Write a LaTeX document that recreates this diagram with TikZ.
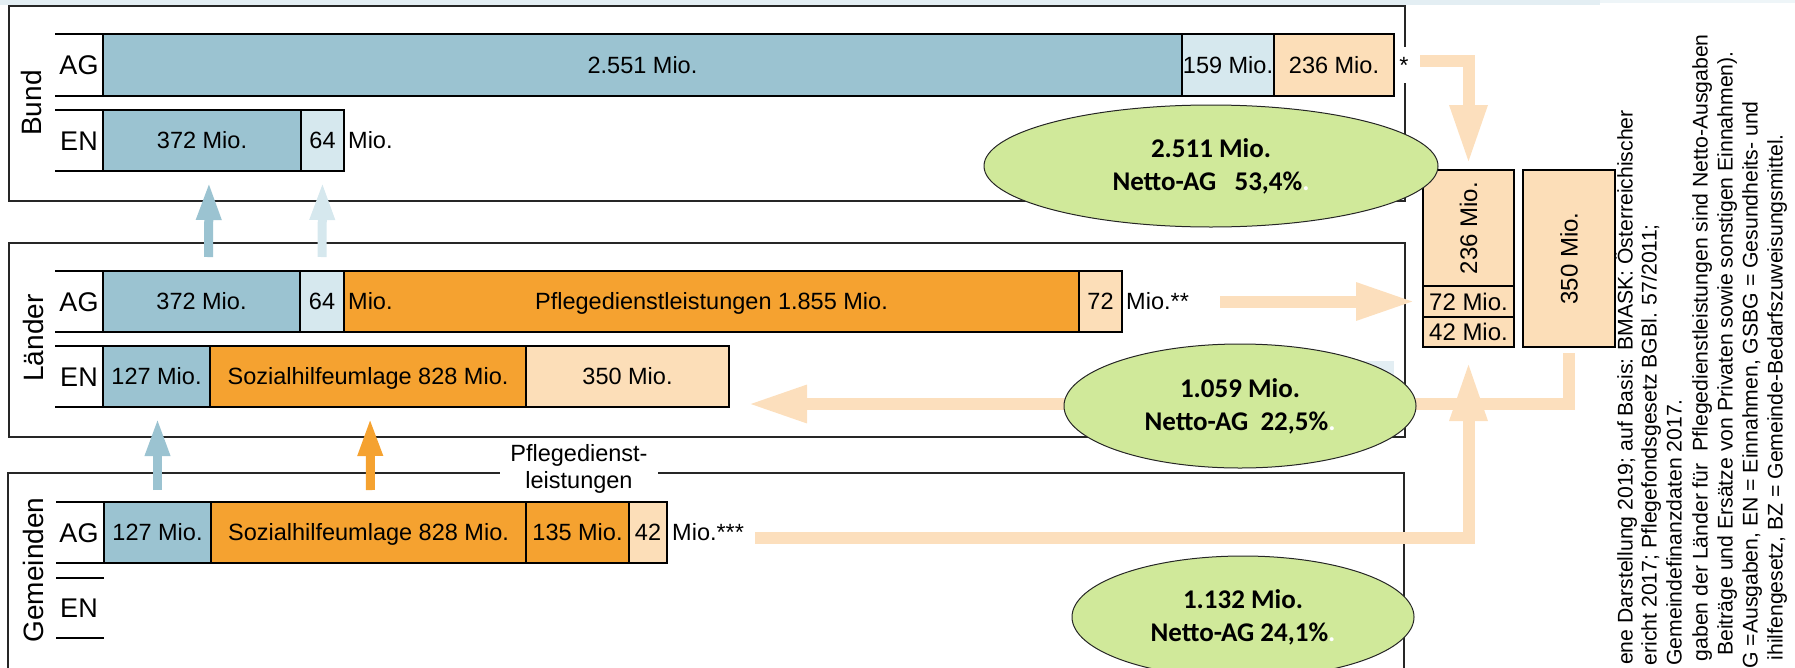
\documentclass[tikz,border=0pt]{standalone}
\usepackage{fontspec}
\setmainfont{Liberation Sans}
\newfontfamily\calibri{Carlito}
\usepackage{graphicx}
\usetikzlibrary{arrows.meta,shapes.geometric}
\definecolor{barblue}{HTML}{9BC3D1}
\definecolor{lblue}{HTML}{D6E8EE}
\definecolor{peach}{HTML}{FCDEB8}
\definecolor{arrpeach}{HTML}{FCDFBD}
\definecolor{orng}{HTML}{F5A230}
\definecolor{egreen}{HTML}{D0E99A}
\definecolor{strip}{HTML}{E3EEF3}
\definecolor{striptwo}{HTML}{EEF5F8}
\newcommand\T[1]{\makebox[0pt]{#1}}
\newcommand\segfont{\fontsize{23.5}{27}\selectfont}
\newcommand\labfont{\fontsize{27}{31}\selectfont}
\newcommand\rotfont{\fontsize{28}{32}\selectfont}
\newcommand\rbfont{\fontsize{24}{28}\selectfont}
\newcommand\footfont{\fontsize{21.2}{25}\selectfont}
\newcommand\ellfont{\fontsize{27}{33}\selectfont\calibri\bfseries}
\tikzset{
  segbox/.style={draw=black,line width=1.2pt,rectangle,inner sep=0pt,outer sep=0pt,font=\segfont,text height=16.8pt,text depth=0pt},
  barline/.style={draw=black,line width=2.4pt},
  boxline/.style={draw=black!85,line width=1.5pt},
  tickline/.style={draw=black,line width=1.3pt},
  lab/.style={font=\labfont,inner sep=0pt,text height=19.4pt,text depth=0pt},
  rotlab/.style={font=\rotfont,inner sep=0pt,rotate=90},
  plain/.style={font=\segfont,inner sep=0pt,text height=16.8pt,text depth=0pt},
  upA/.style={line width=9pt,-{Triangle[length=38pt,width=23pt]}},
  peacharr/.style={draw=arrpeach,line width=12pt,line join=miter,-{Triangle[length=59pt,width=35pt]}},
  rbox/.style={draw=black,line width=2.4pt,fill=peach,rectangle,inner sep=0pt,outer sep=0pt,font=\rbfont,anchor=north west},
  ell/.style={ellipse,draw=black!85,line width=1pt,fill=egreen,inner sep=0pt,align=center,font=\ellfont},
  foot/.style={font=\footfont,inner sep=0pt,rotate=90,anchor=east,text height=15pt,text depth=4pt},
}
\newcommand\seg[7]{\node[segbox,fill=#6,minimum width={(#3-#2)*1pt},minimum height={(#5-#4)*1pt},anchor=north west] (#1) at (#2,#4) {\T{#7}};}
\begin{document}
\begin{tikzpicture}[x=1pt,y=-1pt]
\useasboundingbox (0,0) rectangle (1795,667);
% top strip
\fill[strip] (0,0) rectangle (1600,5);
\fill[striptwo] (1600,0) rectangle (1795,3);
% level boxes
\node[boxline,rectangle,inner sep=0pt,minimum width=1396pt,minimum height=195pt,anchor=north west] (bundbox) at (8,5) {};
\node[boxline,rectangle,inner sep=0pt,minimum width=1396pt,minimum height=194pt,anchor=north west] (laenderbox) at (8,242) {};
\draw[boxline] (8,700) -- (8,473) -- (1404,473) -- (1404,700);
\fill[strip] (1300,361) rectangle (1394,430);
% side labels
\node[rotlab] (bund) at (31,103) {Bund};
\node[rotlab] (laender) at (33,338) {Länder};
\node[rotlab] (gem) at (33,570) {Gemeinden};
% Bund rows
\draw[tickline] (55,34) -- (103,34); \draw[tickline] (55,96) -- (103,96);
\draw[tickline] (55,110) -- (103,110); \draw[tickline] (55,171) -- (103,171);
\node[lab] (bAG) at (79,65) {\T{AG}};
\node[lab] (bEN) at (79,140.5) {\T{EN}};
\seg{bAGa}{103}{1182}{34}{96}{barblue}{2.551 Mio.}
\seg{bAGb}{1182}{1274}{34}{96}{lblue}{159 Mio.}
\seg{bAGc}{1274}{1394}{34}{96}{peach}{236 Mio.}
\draw[barline] (bAGa.north west) rectangle (bAGc.south east);
\seg{bENa}{103}{301}{110}{171}{barblue}{372 Mio.}
\seg{bENb}{301}{344}{110}{171}{lblue}{64}
\draw[barline] (bENa.north west) rectangle (bENb.south east);
\node[plain,anchor=west] (bmio) at (348,140.5) {Mio.};
% Laender rows
\draw[tickline] (55,271) -- (103,271); \draw[tickline] (55,332) -- (103,332);
\draw[tickline] (55,346) -- (103,346); \draw[tickline] (55,407) -- (103,407);
\node[lab] (lAG) at (79,301.5) {\T{AG}};
\node[lab] (lEN) at (79,376.5) {\T{EN}};
\seg{lAGa}{103}{300}{271}{332}{barblue}{372 Mio.}
\seg{lAGb}{300}{344}{271}{332}{lblue}{64}
\seg{lAGc}{344}{1079}{271}{332}{orng}{Pflegedienstleistungen 1.855 Mio.}
\seg{lAGd}{1079}{1122}{271}{332}{peach}{72}
\draw[barline] (lAGa.north west) rectangle (lAGd.south east);
\node[plain,anchor=west] (lmioa) at (348,301.5) {Mio.};
\node[plain,anchor=west] (lmiob) at (1126,301.5) {Mio.**};
\seg{lENa}{103}{210}{346}{407}{barblue}{127 Mio.}
\seg{lENb}{210}{526}{346}{407}{orng}{Sozialhilfeumlage 828 Mio.}
\seg{lENc}{526}{729}{346}{407}{peach}{350 Mio.}
\draw[barline] (lENa.north west) rectangle (lENc.south east);
% Gemeinden rows
\draw[tickline] (56,502) -- (104,502); \draw[tickline] (56,563) -- (104,563);
\draw[tickline] (56,578) -- (104,578); \draw[tickline] (56,638) -- (104,638);
\node[lab] (gAG) at (79,532.5) {\T{AG}};
\node[lab] (gEN) at (79,608) {\T{EN}};
\seg{gAGa}{104}{211}{502}{563}{barblue}{127 Mio.}
\seg{gAGb}{211}{526}{502}{563}{orng}{Sozialhilfeumlage 828 Mio.}
\seg{gAGc}{526}{629}{502}{563}{orng}{135 Mio.}
\seg{gAGd}{629}{667}{502}{563}{peach}{42}
\draw[barline] (gAGa.north west) rectangle (gAGd.south east);
\node[plain,anchor=west] (gmio) at (672,532.5) {Mio.***};
\node[fill=white,inner sep=0pt,minimum width=158pt,minimum height=52pt,align=center,font=\fontsize{23.5}{27}\selectfont] (pfl) at (579,468.5) {\T{Pflegedienst-}\\\T{leistungen}};
% vertical arrows
\draw[upA,barblue,shorten <=14pt,shorten >=11pt] ([xshift=7pt]lAGa.north) -- ([xshift=7pt]bENa.south);
\draw[upA,lblue,shorten <=14pt,shorten >=11pt] (lAGb.north) -- (bENb.south);
\draw[upA,barblue,shorten <=12pt,shorten >=11pt] (gAGa.north) -- (gAGa.north |- lENa.south);
\draw[upA,orng,shorten <=12pt,shorten >=11pt] ([xshift=2pt]gAGb.north) -- ([xshift=2pt]lENb.south);
% right boxes
\node[rbox,minimum width=91pt,minimum height=116pt] (rA) at (1423,170) {\makebox[0pt]{\rotatebox{90}{236 Mio.}}};
\node[rbox,minimum width=91pt,minimum height=31pt,text height=17.3pt,text depth=0pt] (rAb) at (1423,286) {\makebox[0pt]{72 Mio.}};
\node[rbox,minimum width=91pt,minimum height=30pt,text height=17.3pt,text depth=0pt] (rAc) at (1423,317) {\makebox[0pt]{42 Mio.}};
\node[rbox,minimum width=92pt,minimum height=177pt] (rB) at (1523,170) {\makebox[0pt]{\rotatebox{90}{350 Mio.}}};
% peach arrows
\coordinate (bstart) at (1420,60.5);
\coordinate (lstart) at (1220,301.5);
\coordinate (ltip) at (748,404);
\coordinate (gstart) at (755,537.5);
\draw[peacharr,shorten >=6pt] (bstart) -| (rA.north);
\draw[peacharr,shorten >=8pt] (lstart) -- (rAb.west);
\draw[peacharr,shorten <=6pt] (rB.south) |- (ltip);
\draw[peacharr,shorten >=15pt] (gstart) -| (rAc.south);
% star
\node[fill=white,inner sep=0pt,minimum width=12pt,minimum height=36pt,font=\segfont] (star) at (1404,65) {\T{*}};
% ellipses
\node[ell,minimum width=454pt,minimum height=122pt] (ea) at (1211,166) {2.511 Mio.\\Netto-AG\ \ \ 53,4\%\textcolor{white}{.}};
\node[ell,minimum width=352pt,minimum height=124pt] (eb) at (1240,406) {1.059 Mio.\\Netto-AG\ \ 22,5\%\textcolor{white}{.}};
\node[ell,minimum width=342pt,minimum height=122pt] (ec) at (1243,617) {1.132 Mio.\\Netto-AG 24,1\%\textcolor{white}{.}};
% footnotes
\node[foot] (fa) at (1627,110) {ene Darstellung 2019; auf Basis: BMASK: Österreichischer};
\node[foot] (fb) at (1651,224) {ericht 2017; Pflegefondsgesetz BGBl. 57/2011;};
\node[foot] (fc) at (1676,399) {Gemeindefinanzdaten 2017.};
\node[foot] (fd) at (1702,34) {gaben der Länder für\ \ Pflegedienstleistungen sind Netto-Ausgaben};
\node[foot] (fe) at (1727,51) {Beiträge und Ersätze von Privaten sowie sonstigen Einnahmen).};
\node[foot] (ff) at (1752,101) {G =Ausgaben, EN = Einnahmen, GSBG = Gesundheits- und};
\node[foot] (fg) at (1777,134) {ihilfengesetz, BZ = Gemeinde-Bedarfszuweisungsmittel.};
\end{tikzpicture}
\end{document}
